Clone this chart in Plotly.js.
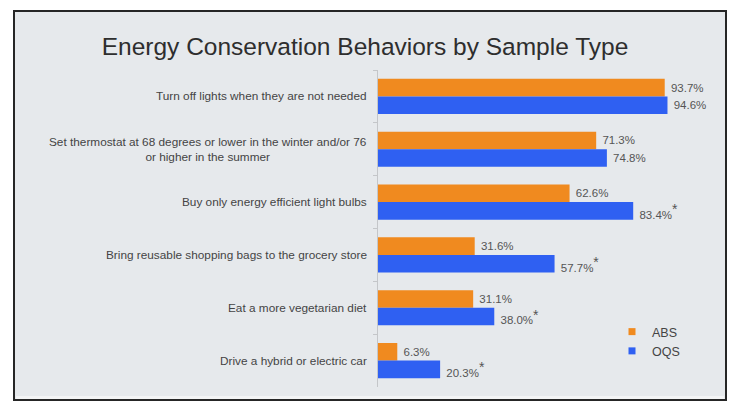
<!DOCTYPE html>
<html>
<head>
<meta charset="utf-8">
<script src="https://cdn.plot.ly/plotly-3.0.1.min.js"></script>
<style>
  html, body { margin: 0; padding: 0; background: #ffffff; }
  #chart { width: 730px; height: 402px; }
</style>
</head>
<body>
<div id="chart"></div>
<script>
// Behaviours, listed top to bottom
const behaviors = [
  "Turn off lights when they are not needed",
  "Set thermostat at 68 degrees or lower in the winter and/or 76<br>or higher in the summer",
  "Buy only energy efficient light bulbs",
  "Bring reusable shopping bags to the grocery store",
  "Eat a more vegetarian diet",
  "Drive a hybrid or electric car"
];

// Percent of each sample reporting the behaviour
const absValues = [93.7, 71.3, 62.6, 31.6, 31.1, 6.3];
const oqsValues = [94.6, 74.8, 83.4, 57.7, 38.0, 20.3];

// Significant difference between samples (marked with *)
const oqsSignificant = [false, false, true, true, true, true];

const seriesNames = ["ABS", "OQS"];
const seriesColors = ["#F08A1F", "#2F60F2"];

const W = 730, H = 402;
const M = { l: 378, r: 46, t: 70, b: 15 };
const plotW = W - M.l - M.r, plotH = H - M.t - M.b;
const px2x = p => (p - M.l) / plotW;
const px2y = p => 1 - (p - M.t) / plotH;

// Value label, with a little extra room after the bar end
const pct = v => "\u00a0" + v.toFixed(1) + "%";
const star = '<sup><span style="font-size:14px">*</span></sup>';

const traces = [
  {
    type: "bar", orientation: "h", name: seriesNames[0],
    y: behaviors, x: absValues,
    marker: { color: seriesColors[0] },
    text: absValues.map(pct),
    textposition: "outside", cliponaxis: false, constraintext: "none",
    textfont: { size: 11.5, color: "#555555" },
    hoverinfo: "x+y", showlegend: false, legendgroup: "abs"
  },
  {
    type: "bar", orientation: "h", name: seriesNames[1],
    y: behaviors, x: oqsValues,
    marker: { color: seriesColors[1] },
    text: oqsValues.map((v, i) => pct(v) + (oqsSignificant[i] ? star : "")),
    textposition: "outside", cliponaxis: false, constraintext: "none",
    textfont: { size: 11.5, color: "#555555" },
    hoverinfo: "x+y", showlegend: false, legendgroup: "oqs"
  },
  // Compact square swatches for the legend
  {
    type: "scatter", mode: "markers", name: seriesNames[0],
    x: [null], y: [null], legendgroup: "abs",
    marker: { symbol: "square", size: 7, color: seriesColors[0] }
  },
  {
    type: "scatter", mode: "markers", name: seriesNames[1],
    x: [null], y: [null], legendgroup: "oqs",
    marker: { symbol: "square", size: 7, color: seriesColors[1] }
  }
];

// Category labels, centred per line and right-aligned against the axis
const labelAnnotations = behaviors.map(b => ({
  xref: "paper", yref: "y", x: 0, y: b,
  xanchor: "right", yanchor: "middle", xshift: -9,
  text: b, showarrow: false, align: "center",
  font: { size: 11.8, color: "#444444" }
}));

const layout = {
  width: W, height: H,
  margin: M,
  paper_bgcolor: "#ffffff",
  plot_bgcolor: "rgba(0,0,0,0)",
  font: { family: "Arial, 'Liberation Sans', sans-serif", color: "#444444" },
  title: {
    text: "Energy Conservation Behaviors by Sample Type",
    font: { size: 24.5, color: "#2e2e2e" },
    x: 0.5, xanchor: "center", xref: "container",
    y: 1 - 46 / H, yanchor: "middle", yref: "container"
  },
  barmode: "group",
  bargap: 0.335,
  bargroupgap: 0,
  xaxis: {
    range: [0, 100], visible: false, fixedrange: true
  },
  yaxis: {
    type: "category", autorange: "reversed",
    showticklabels: false, showgrid: false, zeroline: false,
    showline: true, linecolor: "#c4c6c9", linewidth: 1,
    ticks: "outside", tickson: "boundaries", ticklen: 4,
    tickcolor: "#c4c6c9", fixedrange: true
  },
  legend: {
    x: px2x(612), y: px2y(317), xanchor: "left", yanchor: "top",
    bgcolor: "rgba(0,0,0,0)", font: { size: 12.5, color: "#444444" },
    itemwidth: 30, tracegroupgap: 0, traceorder: "normal"
  },
  shapes: [
    {
      type: "rect", layer: "below", xref: "paper", yref: "paper",
      x0: px2x(14), x1: px2x(726), y0: px2y(400), y1: px2y(11),
      fillcolor: "#e6e9ec", line: { color: "#262626", width: 2 }
    },
    {
      type: "line", layer: "below", xref: "paper", yref: "paper",
      x0: px2x(16), x1: px2x(724), y0: px2y(397.5), y1: px2y(397.5),
      line: { color: "#f3f4f5", width: 3 }
    }
  ],
  annotations: labelAnnotations,
  showlegend: true
};

Plotly.newPlot("chart", traces, layout, { displayModeBar: false, staticPlot: true });
</script>
</body>
</html>
